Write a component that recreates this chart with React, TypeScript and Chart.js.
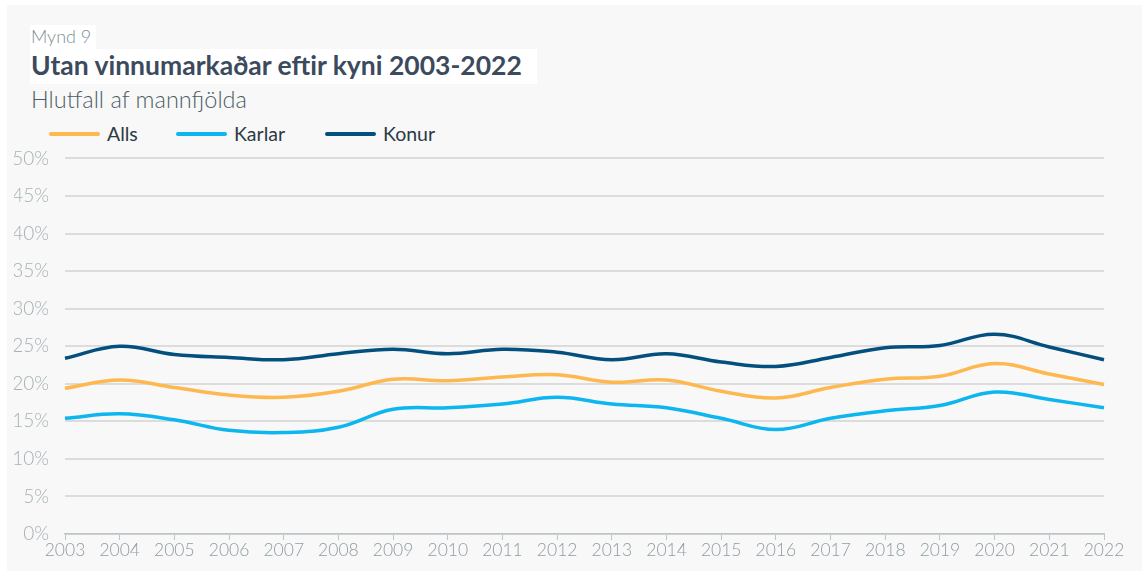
import React, { useEffect, useRef } from "react";
import { Chart, registerables } from "chart.js";

Chart.register(...registerables);

const years = ["2003","2004","2005","2006","2007","2008","2009","2010","2011","2012","2013","2014","2015","2016","2017","2018","2019","2020","2021","2022"];
const alls = [19.4,20.5,19.5,18.5,18.2,19.0,20.6,20.4,20.9,21.2,20.2,20.5,19.0,18.1,19.5,20.6,21.0,22.7,21.3,19.9];
const karlar = [15.4,16.0,15.2,13.8,13.5,14.2,16.6,16.8,17.3,18.2,17.3,16.8,15.4,13.9,15.4,16.4,17.1,18.9,17.9,16.8];
const konur = [23.4,25.0,23.9,23.5,23.2,24.0,24.6,24.0,24.6,24.2,23.2,24.0,22.9,22.3,23.5,24.8,25.1,26.6,24.9,23.2];

const seriesNames = ["Alls", "Karlar", "Konur"];
const seriesColors = ["#FDB84F", "#0DB6EE", "#03507F"];

const FONT = "Lato, 'Open Sans', sans-serif";

export default function App() {
  const ref = useRef<HTMLCanvasElement | null>(null);

  useEffect(() => {
    document.body.style.margin = "0";
    const ctx = ref.current!.getContext("2d")!;
    const chart = new Chart(ctx, {
      type: "line",
      data: {
        labels: years,
        datasets: [alls, karlar, konur].map((d, i) => ({
          label: seriesNames[i],
          data: d,
          borderColor: seriesColors[i],
          backgroundColor: seriesColors[i],
          borderWidth: 3.5,
          pointRadius: 0,
          tension: 0.4,
          fill: false,
        })),
      },
      options: {
        animation: false,
        responsive: false,
        maintainAspectRatio: false,
        layout: { padding: { left: 14, right: 38, top: 25, bottom: 0 } },
        plugins: {
          legend: { display: false },
          tooltip: { enabled: false },
        },
        scales: {
          x: {
            offset: false,
            afterFit: (s: any) => { s.height = 42; },
            grid: {
              display: true,
              drawOnChartArea: false,
              drawTicks: true,
              tickLength: 6,
              color: "#BCC4C7",
            },
            border: { display: true, color: "#BCC4C7", width: 1.5 },
            ticks: {
              color: "#8E9CA2",
              font: { family: FONT, size: 17.5, weight: "300" },
              padding: 0,
              maxRotation: 0,
              autoSkip: false,
            },
          },
          y: {
            min: 0,
            max: 50,
            afterFit: (s: any) => { s.width = 51; },
            grid: { color: "#DCDCDC", lineWidth: 2, drawTicks: false },
            border: { display: false },
            ticks: {
              stepSize: 5,
              padding: 16,
              color: "#A6B1B5",
              font: { family: FONT, size: 19, weight: "300" },
              callback: (v: any) => v + "%",
            },
          },
        },
      },
    });
    return () => chart.destroy();
  }, []);

  const legendLine = (c: string): React.CSSProperties => ({
    display: "inline-block",
    width: 51,
    height: 4,
    borderRadius: 2,
    background: c,
    marginRight: 7,
    verticalAlign: "middle",
  });

  return (
    <div style={{ position: "absolute", left: 0, top: 0, width: 1142, height: 576, background: "#ffffff", overflow: "hidden" }}>
      <div style={{ position: "absolute", left: 7, top: 5, width: 1135, height: 566, background: "#F8F8F8" }} />
      <div style={{ position: "absolute", left: 30, top: 25, width: 66, height: 24, background: "#ffffff" }} />
      <div style={{ position: "absolute", left: 30, top: 49, width: 507, height: 35, background: "#ffffff" }} />
      <div style={{ position: "absolute", left: 31, top: 23, fontFamily: FONT, fontWeight: 300, fontSize: 18, color: "#7D8E96", lineHeight: "26px" }}>Mynd 9</div>
      <div style={{ position: "absolute", left: 31, top: 48, fontFamily: FONT, fontWeight: 700, fontSize: 26.5, color: "#3C4A5D", lineHeight: "35px" }}>Utan vinnumarkaðar eftir kyni 2003-2022</div>
      <div style={{ position: "absolute", left: 31, top: 84, fontFamily: FONT, fontWeight: 300, fontSize: 23.5, color: "#4D5E66", lineHeight: "30px" }}>Hlutfall af mannfjölda</div>
      <div style={{ position: "absolute", left: 49, top: 120, fontFamily: FONT, fontSize: 19.5, color: "#2C3A45", lineHeight: "24px", whiteSpace: "nowrap" }}>
        {seriesNames.map((n, i) => (
          <span key={n} style={{ position: "absolute", left: [0, 127, 276][i], top: 0 }}>
            <span style={legendLine(seriesColors[i])} />
            <span style={{ verticalAlign: "middle" }}>{n}</span>
          </span>
        ))}
      </div>
      <canvas ref={ref} width={1142} height={445} style={{ position: "absolute", left: 0, top: 131, width: 1142, height: 445 }} />
    </div>
  );
}
